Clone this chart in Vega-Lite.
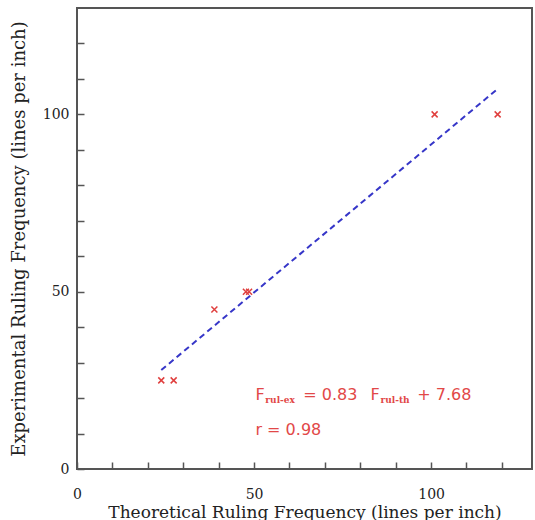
{
  "$schema": "https://vega.github.io/schema/vega-lite/v6.json",
  "autosize": {"type": "none"},
  "padding": {"left": 77, "top": 8, "right": 3, "bottom": 51},
  "width": 455,
  "height": 461,
  "background": "white",
  "config": {
    "view": {"stroke": "#555555", "strokeWidth": 2},
    "axis": {
      "domain": false,
      "grid": false,
      "labelFont": "DejaVu Serif",
      "labelFontSize": 14,
      "labelColor": "#222222",
      "titleFont": "DejaVu Serif",
      "titleFontSize": 17,
      "titleFontWeight": "normal",
      "titleColor": "#222222"
    }
  },
  "datasets": {
    "pts": [
      {"th": 23.8, "ex": 25},
      {"th": 27.3, "ex": 25},
      {"th": 38.8, "ex": 45},
      {"th": 47.7, "ex": 50},
      {"th": 48.6, "ex": 50},
      {"th": 101.0, "ex": 100},
      {"th": 118.8, "ex": 100}
    ],
    "fit": [
      {"th": 23.8, "ex": 27.9},
      {"th": 118.8, "ex": 107.2}
    ],
    "main": [
      {"th": 50.4, "ex": 19.5, "t": "F"},
      {"th": 63.9, "ex": 19.5, "t": "= 0.83"},
      {"th": 82.9, "ex": 19.5, "t": "F"},
      {"th": 96.1, "ex": 19.5, "t": "+ 7.68"},
      {"th": 50.4, "ex": 9.6, "t": "r = 0.98"}
    ],
    "sub": [
      {"th": 53.2, "ex": 18.6, "t": "rul-ex"},
      {"th": 85.7, "ex": 18.6, "t": "rul-th"}
    ]
  },
  "encoding": {
    "x": {"field": "th", "type": "quantitative", "scale": {"domain": [0, 128.5], "nice": false, "zero": false},
          "axis": {"values": [0, 10, 20, 30, 40, 50, 60, 70, 80, 90, 100, 110, 120], "ticks": true, "tickColor": "#555555", "tickWidth": 1.5, "tickSize": 7, "offset": -7,
                   "labelFlush": false,
                   "labelExpr": "datum.value % 50 === 0 ? datum.label : ''", "labelPadding": 18, "title": "Theoretical Ruling Frequency (lines per inch)", "titlePadding": 3}},
    "y": {"field": "ex", "type": "quantitative", "scale": {"domain": [0, 130], "nice": false, "zero": false},
          "axis": {"values": [0, 10, 20, 30, 40, 50, 60, 70, 80, 90, 100, 110, 120], "ticks": true, "tickColor": "#555555", "tickWidth": 1.5, "tickSize": 7, "offset": -7,
                   "labelFlush": false,
                   "labelExpr": "datum.value % 50 === 0 ? datum.label : ''", "labelPadding": 8, "title": "Experimental Ruling Frequency (lines per inch)", "titleFontSize": 18, "titlePadding": 14}}
  },
  "layer": [
    {
      "data": {"name": "pts"},
      "mark": {"type": "point", "shape": "M-1,-1L1,1M-1,1L1,-1", "filled": false, "size": 36, "strokeWidth": 1.5, "color": "#e0403f", "opacity": 1}
    },
    {
      "data": {"name": "fit"},
      "mark": {"type": "line", "color": "#3636c8", "strokeWidth": 2, "strokeDash": [6, 4]}
    },
    {
      "data": {"name": "main"},
      "mark": {"type": "text", "align": "left", "baseline": "alphabetic", "font": "DejaVu Sans", "fontSize": 16, "color": "#e24848"},
      "encoding": {"text": {"field": "t"}}
    },
    {
      "data": {"name": "sub"},
      "mark": {"type": "text", "align": "left", "baseline": "alphabetic", "font": "DejaVu Serif", "fontSize": 9, "fontWeight": "bold", "color": "#e24848"},
      "encoding": {"text": {"field": "t"}}
    }
  ]
}
